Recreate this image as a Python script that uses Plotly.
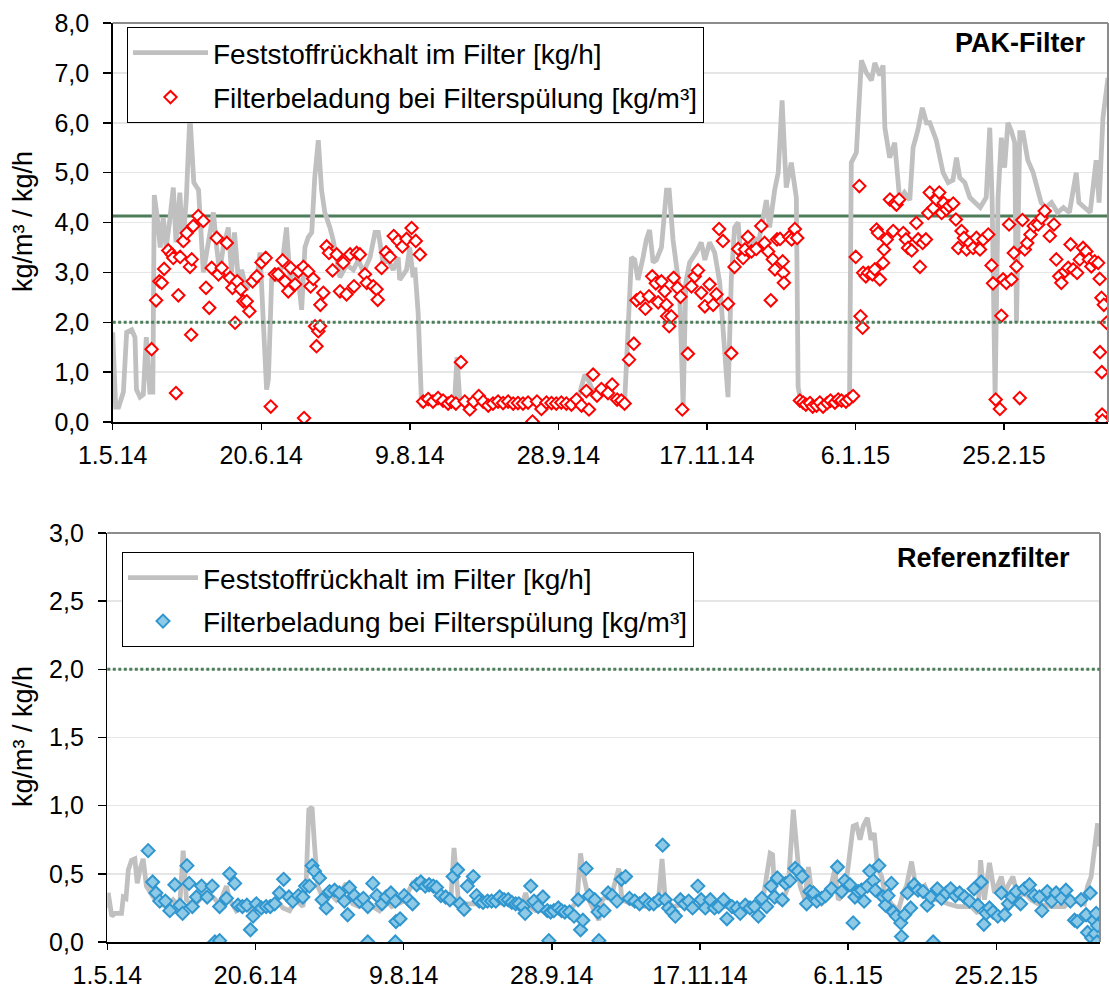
import pandas as pd
import plotly.graph_objects as go

START = pd.Timestamp("2014-05-01")
END = pd.Timestamp("2015-04-01")

tick_days = [0, 50, 100, 150, 200, 250, 300]
tick_labels = ["1.5.14", "20.6.14", "9.8.14", "28.9.14", "17.11.14", "6.1.15", "25.2.15"]

# ---------------- PAK-Filter (top) ----------------
pak_line_days = [0, 1, 2, 3.6, 4.7, 6.4, 7.5, 8, 9.2, 10.3, 11.3, 12.5, 13.5, 14, 15, 16, 17, 18, 19.1,
                 20.4, 21.3, 22.6, 23.6, 24.8, 25.5, 26, 27.3, 28.9, 30.5, 32.5, 33.9, 35, 36, 37.2, 38.9,
                 40, 41, 42.3, 43.4, 45, 46.8, 48.5, 49.6, 50.7, 51.8, 52.4, 53.5, 55.2, 56.9, 58.5, 59.7,
                 60.8, 62.5, 63.6, 64.7, 65.8, 67, 68, 69.2, 70.3, 71.4, 73.1, 74.2, 75.3, 76.5, 78.7, 81,
                 82.7, 84.4, 86.6, 88.3, 89.4, 91, 92.7, 94.4, 96.1, 96.6, 98.9, 100, 101.1, 101.7, 102.8,
                 103.4, 104, 105.6, 108, 110, 112, 114.6, 115.1, 115.9, 116.8, 119, 122, 125, 128, 131, 134,
                 137, 140, 143, 146, 149, 152, 155, 157.2, 158.9, 160, 161.1, 162.8, 164, 165.6, 167.3,
                 168.4, 169.5, 171.2, 172.3, 173.5, 174.6, 175.7, 176.8, 178.5, 179.6, 180.7, 181.9, 183,
                 184.7, 186.4, 187.3, 188.6, 189.7, 190.8, 192, 192.9, 194.2, 196.4, 198.1, 199.3, 200.9,
                 202.6, 204.3, 206, 207.1, 208.2, 209.3, 210.5, 211.6, 213.3, 215.5, 217.7, 220, 221.1,
                 222.8, 224, 225.3, 226.7, 228.4, 230.1, 230.7, 231.5, 234, 237, 240, 243, 246, 248, 248.6,
                 250.3, 252, 253.7, 255.4, 256.5, 258.2, 259.3, 259.9, 261.5, 263.2, 263.8, 264.9, 266.5,
                 268.3, 269.4, 271, 272.5, 273.9, 275, 277.2, 279.5, 281.2, 282.8, 284, 285.1, 286.8, 288.5,
                 290, 292, 294, 295.2, 296, 297, 298, 299.1, 300.2, 301.3, 302.4, 303.6, 304.2, 305.3,
                 306.4, 308, 309.8, 311.4, 312.5, 314, 316, 318, 320, 322, 324.3, 325.2, 327, 329, 331, 332,
                 333.3, 335]
pak_line_vals = [1.8, 0.3, 0.3, 0.6, 1.8, 1.85, 1.7, 0.65, 0.5, 0.55, 1.7, 0.6, 0.6, 4.55, 4.1, 3.5, 4.1, 3.5, 4.0,
                 4.7, 3.6, 4.6, 3.5, 4.5, 5.5, 6.15, 4.8, 4.65, 3.0, 3.8, 4.2, 3.5, 3.0, 3.5, 3.9,
                 3.0, 3.8, 2.85, 3.05, 2.65, 2.85, 2.85, 3.4, 2.0, 0.65, 0.85, 2.85, 2.85, 3.1, 3.9, 2.85,
                 3.05, 2.85, 2.25, 3.5, 3.7, 3.8, 4.9, 5.65, 4.65, 4.2, 3.9, 3.65, 3.3, 2.9, 3.15, 3.05,
                 3.25, 3.0, 3.3, 3.8, 3.8, 3.2, 3.25, 3.05, 3.3, 2.85, 3.05, 3.5, 2.9, 3.1, 2.2,
                 0.85, 0.3, 0.45, 0.45, 0.45, 0.42, 0.45, 0.45, 1.3, 0.45, 0.4, 0.38, 0.4, 0.35, 0.38, 0.36,
                 0.37, 0.35, 0.38, 0.36, 0.37, 0.35, 0.38, 0.58, 0.95, 0.85, 0.7, 0.45, 0.7, 0.58, 0.78,
                 0.45, 0.38, 0.45, 0.38, 2.05, 3.3, 3.25, 2.85, 3.3, 3.65, 3.85, 3.2, 3.25,
                 3.5, 4.65, 4.65, 3.65, 3.2, 2.65, 0.3, 2.8, 3.2, 3.4, 3.6, 3.25, 3.6,
                 3.4, 2.8, 1.5, 0.5, 2.85, 3.9, 4.0, 3.25, 3.5, 3.6, 3.7, 4.45, 3.9,
                 4.65, 5.0, 6.45, 4.7, 5.2, 4.5, 0.7, 0.45, 0.38, 0.35, 0.38, 0.4, 0.38, 0.42, 5.2,
                 5.4, 7.25, 7.0, 6.85, 7.2, 6.95, 7.15, 5.9, 5.3, 5.6, 5.1, 4.45, 4.6,
                 4.45, 5.5, 5.85, 6.3, 6.0, 6.0, 5.65, 5.0, 4.8, 4.85, 5.3, 4.9, 4.8, 4.5,
                 4.4, 4.3, 4.5, 5.9, 4.45, 0.5, 4.5, 5.7, 5.1, 6.0, 5.85, 5.6, 2.0, 5.8,
                 5.8, 5.25, 5.0, 4.65, 4.4, 4.3, 4.4, 4.2, 4.3, 4.2, 5.0, 4.4, 4.3, 4.2, 5.25, 4.4,
                 6.1, 6.9]

pak_mk_days = [13.1, 14.6, 15.7, 16.5, 17.3, 18.7, 19.9, 20.4, 21.3, 22.1, 22.7, 23.8, 24.9, 26.0, 26.6, 26.4,
               27.1, 28.8, 30.5, 31.4, 32.5, 33.3, 35.0, 35.6, 36.7, 38.4, 39.5, 40.3, 41.2, 41.9, 43.1, 44.0,
               45.1, 46.0, 47.1, 48.5, 50.1, 51.5, 53.2, 54.6, 55.7, 57.2, 58.0, 59.1, 59.9, 61.4, 62.5, 64.2,
               64.4, 65.8, 66.6, 67.5, 68.1, 68.6, 69.2, 69.8, 69.9, 70.9, 72.0, 72.8, 74.0, 75.4, 76.5, 77.6,
               78.7, 79.9, 81.2, 82.1, 83.2, 84.9, 85.5, 87.7, 88.8, 89.2, 90.5, 92.0, 93.3, 94.6, 96.1, 97.5,
               98.9, 100.6, 102.0, 103.4, 104.5, 106.2, 107.8, 109.5, 111.2, 112.9, 114.0, 115.5, 117.2,
               118.5, 120.2, 121.5, 123.2, 124.7, 126.4, 128.0, 129.7, 131.4, 133.1, 134.8, 136.4, 138.1,
               139.8, 141.3, 142.8, 144.3, 146.0, 147.7, 149.3, 151.0, 152.7, 154.4, 156.1, 157.8, 159.4,
               160.3, 161.7, 163.0, 164.5, 166.7, 168.1, 169.8, 171.2, 172.3, 173.8, 175.4, 176.3, 177.6,
               179.3, 180.5, 181.6, 182.8, 183.6, 184.7, 185.8, 186.4, 186.6, 187.3, 188.0, 188.8, 190.1,
               191.1, 191.7, 193.6, 194.8, 195.9, 197.0, 198.1, 199.3, 200.9, 202.1, 203.2, 204.1, 205.4,
               207.1, 208.2, 209.3, 210.5, 212.2, 212.8, 213.8, 215.0, 216.6, 218.3, 219.4, 220.6, 221.5,
               222.2, 222.9, 223.6, 224.6, 225.5, 225.7, 225.9, 227.7, 228.5, 229.6, 230.4, 231.3, 232.4,
               233.3, 234.7, 235.6, 236.9, 238.0, 239.1, 240.5, 241.6, 243.1, 244.2, 245.3, 246.8, 247.9,
               249.2, 250.1, 251.3, 251.7, 252.4, 252.6, 253.5, 254.3, 255.7, 256.5, 257.1, 257.6, 258.2,
               259.3, 259.6, 260.5, 261.6, 262.7, 263.3, 263.8, 264.7, 266.1, 267.0, 267.7, 268.9, 270.5,
               271.1, 271.7, 272.6, 273.7, 274.5, 275.0, 276.2, 277.3, 278.2, 279.0, 279.7, 280.6, 281.5,
               282.9, 283.8, 284.6, 285.7, 286.5, 287.4, 288.5, 289.6, 290.7, 291.9, 293.0, 294.7, 295.8,
               296.3, 297.2, 298.6, 299.1, 299.7, 300.8, 301.7, 302.5, 303.3, 304.2, 305.3, 306.2, 307.0,
               307.8, 308.9, 310.0, 311.5, 312.6, 313.7, 315.4, 316.8, 317.6, 318.6, 319.3, 320.5, 321.6,
               322.4, 323.3, 324.6, 325.5, 326.6, 327.7, 328.6, 329.4, 330.5, 331.7, 332.2, 332.8, 333.6,
               334.5, 332.3, 332.9, 333.0, 333.1]
pak_mk_vals = [1.46, 2.44, 2.82, 2.79, 3.07, 3.44, 3.36, 3.29, 0.58, 2.54, 3.31, 3.63, 3.79, 3.11, 3.26, 1.75,
               3.93, 4.13, 4.03, 2.69, 2.29, 3.09, 3.69, 2.96, 3.09, 3.59, 2.89, 2.69, 1.99, 2.82, 2.66, 2.42,
               2.42, 2.22, 2.82, 2.92, 3.2, 3.29, 0.31, 2.96, 2.96, 3.24, 2.82, 2.62, 3.09, 2.76, 3.02, 3.11,
               0.08, 3.02, 2.72, 2.87, 1.92, 1.52, 1.82, 1.92, 2.35, 2.59, 3.52, 3.39, 3.04, 3.36, 2.62, 3.19,
               2.56, 3.36, 2.72, 3.39, 3.36, 2.96, 2.79, 2.72, 2.66, 2.45, 3.09, 3.40, 3.31, 3.73, 3.63, 3.52,
               3.67, 3.89, 3.63, 3.36, 0.41, 0.46, 0.41, 0.48, 0.43, 0.37, 0.41, 0.37, 1.2,
               0.41, 0.25, 0.41, 0.52, 0.41, 0.33, 0.37, 0.41, 0.38, 0.41, 0.37, 0.38, 0.37,
               0.39, 0.01, 0.41, 0.26, 0.39, 0.38, 0.37, 0.39, 0.37, 0.35, 0.45, 0.33, 0.62,
               0.25, 0.95, 0.53, 0.66, 0.58, 0.75, 0.45, 0.43, 0.37, 1.25, 1.57, 2.44, 2.49,
               2.27, 2.52, 2.92, 2.78, 2.4, 2.82, 2.62, 2.35, 2.12, 1.92, 2.12, 2.89, 2.69,
               2.51, 0.25, 1.37, 2.72, 2.92, 3.04, 2.59, 2.32, 2.76, 2.35, 2.56, 3.87, 3.63,
               2.37, 1.38, 3.11, 3.47, 3.29, 3.46, 3.71, 3.42, 3.47, 3.93, 3.59, 3.42, 2.44,
               3.26, 3.06, 3.66, 3.67, 3.22, 2.99, 2.79, 3.71, 3.66, 3.87, 3.69, 0.43, 0.39,
               0.35, 0.38, 0.31, 0.33, 0.39, 0.31, 0.38, 0.43, 0.39, 0.45, 0.43, 0.41, 0.46,
               0.52, 3.31, 4.73, 2.12, 1.89, 2.99, 2.92, 2.99, 2.96, 3.06, 3.86, 3.79, 2.86,
               3.19, 3.46, 3.66, 4.46, 3.83, 4.39, 4.36, 4.46, 3.79, 3.66, 3.49, 3.44, 3.99,
               3.66, 3.11, 3.59, 3.66, 4.19, 4.6, 4.29, 4.46, 4.6, 4.19, 4.39, 4.26, 4.33,
               4.38, 4.06, 3.49, 3.83, 3.69, 3.46, 3.59, 3.49, 3.69, 3.46, 3.66, 3.76, 3.14,
               2.78, 0.45, 0.26, 2.13, 2.86, 2.79, 3.96, 2.86, 3.39, 3.12, 0.48, 4.05, 3.46,
               3.59, 3.76, 3.93, 3.96, 4.09, 4.23, 3.73, 3.96, 3.26, 2.92, 2.79, 3.02, 3.09,
               3.56, 3.06, 2.99, 3.26, 3.49, 3.42, 3.26, 3.12, 3.22, 3.19, 2.87, 2.49, 2.35,
               1.99, 1.4, 1.0, 0.15, 0.03]

# ---------------- Referenzfilter (bottom) ----------------
ref_line_days = [0, 0.3, 1.5, 2.6, 3.7, 4.8, 5.4, 6.3, 7.1, 8.2, 9.3, 10.1, 11, 12.1, 13.2, 15.5, 17.7, 20, 22.2,
                 24.4, 25.6, 26.7, 29, 31.2, 33.4, 35.6, 37.9, 40.2, 41.3, 43.5, 45.8, 48, 50.3, 52.5, 54.8,
                 57, 59.3, 61.5, 63.7, 66, 67, 68, 69.1, 69.9, 71, 72.7, 75, 77.2, 80.6, 82.8, 85, 87.3, 89.6,
                 91.8, 94, 96, 98, 100, 103, 106, 109, 111, 114, 116, 117, 118.5, 121, 125, 130, 135, 140,
                 141.2, 142.3, 144.5, 148, 152, 156, 158.5, 159.7, 160.8, 162.5, 165.9, 167, 170.4, 172.6,
                 173.7, 177, 181.6, 186, 187.2, 188.3, 191, 195, 200, 204, 208, 215, 221, 223.7, 224.5,
                 225.4, 227.6, 229.8, 231.5, 232.6, 233.8, 235.4, 236.6, 237.7, 241, 243.3, 245.5, 246.7,
                 248.9, 251.7, 252.8, 254, 255.1, 256.5, 257.7, 258.8, 259.9, 261.3, 262.4, 264.6, 266.9,
                 268.6, 269.7, 271.4, 272.5, 274.2, 275.9, 278, 280.3, 283.7, 287, 291.6, 293.8, 294.7, 296,
                 297.7, 299.4, 301.7, 302.8, 303.9, 305.6, 307.3, 309.5, 311.8, 314, 318.5, 323, 325.2,
                 329.7, 330.8, 332, 334.2, 335]
ref_line_vals = [0.25, 0.36, 0.19, 0.21, 0.21, 0.21, 0.33, 0.32, 0.53, 0.6, 0.61, 0.43, 0.53, 0.61, 0.41, 0.33,
                 0.28, 0.26, 0.31, 0.26, 0.67, 0.31, 0.26, 0.31, 0.36, 0.33, 0.28, 0.41, 0.31, 0.23, 0.28,
                 0.23, 0.28, 0.26, 0.28, 0.31, 0.25, 0.23, 0.31, 0.26, 0.38, 0.97, 0.99, 0.72, 0.41, 0.33,
                 0.36, 0.31, 0.43, 0.28, 0.26, 0.31, 0.26, 0.23, 0.31, 0.26, 0.28, 0.3, 0.43, 0.4, 0.43,
                 0.38, 0.3, 0.33, 0.69, 0.3, 0.28, 0.28, 0.29, 0.28, 0.28, 0.36, 0.26, 0.23, 0.23, 0.22,
                 0.23, 0.3, 0.65, 0.48, 0.31, 0.16, 0.31, 0.36, 0.54, 0.31, 0.28, 0.26, 0.31, 0.61, 0.31,
                 0.26, 0.28, 0.26, 0.28, 0.26, 0.26, 0.28, 0.65, 0.64, 0.31, 0.28, 0.41, 0.97, 0.7, 0.41,
                 0.31, 0.55, 0.36, 0.28, 0.33, 0.53, 0.31, 0.36, 0.85, 0.86, 0.75, 0.85, 0.91, 0.75, 0.8,
                 0.55, 0.48, 0.36, 0.28, 0.23, 0.36, 0.41, 0.59, 0.45, 0.36, 0.41, 0.31, 0.31, 0.28, 0.26,
                 0.26, 0.21, 0.6, 0.31, 0.58, 0.36, 0.48, 0.36, 0.41, 0.48, 0.33, 0.36, 0.31, 0.28, 0.26,
                 0.26, 0.31, 0.28, 0.41, 0.48, 0.87, 0.7]

ref_mk_days = [13.8, 15.3, 16.4, 17.7, 19.6, 21.1, 22.8, 24.5, 25.4, 26.9, 27.6, 28.7, 30.1, 31.8, 33.7, 35.4,
               36.3, 37.9, 37.9, 40.2, 41.3, 43.0, 44.1, 45.6, 47.1, 48.3, 49.2, 50.3, 52.0, 53.6, 55.0, 56.5,
               58.1, 59.5, 61.3, 62.6, 64.5, 66.0, 66.9, 68.2, 69.1, 69.9, 71.6, 72.5, 73.9, 75.0, 76.7, 78.3,
               80.0, 81.1, 81.7, 83.4, 85.1, 86.4, 87.9, 87.9, 89.6, 91.0, 92.7, 94.1, 95.7, 97.2, 97.4, 97.2,
               98.8, 100.2, 101.7, 103.0, 104.4, 105.8, 107.3, 108.6, 110.0, 111.1, 112.6, 114.2, 115.6,
               116.7, 118.2, 119.0, 120.4, 121.5, 123.5, 124.6, 125.5, 126.8, 128.3, 129.7, 131.1, 132.4,
               133.9, 135.3, 136.5, 137.8, 138.9, 140.3, 141.0, 142.9, 144.0, 145.4, 147.0, 148.5, 149.0,
               149.6, 150.7, 152.2, 153.3, 154.4, 156.0, 157.5, 158.9, 159.7, 160.5, 161.6, 162.7, 164.5,
               165.6, 165.9, 167.6, 169.0, 170.4, 172.0, 173.5, 174.9, 176.2, 178.0, 179.6, 181.4, 182.9,
               184.4, 186.1, 187.4, 188.3, 189.4, 190.6, 191.7, 193.4, 194.8, 196.2, 197.5, 199.3, 200.4,
               201.8, 203.5, 204.9, 206.3, 208.0, 209.1, 210.8, 212.5, 213.6, 215.3, 216.9, 218.4, 219.7,
               220.9, 222.5, 224.0, 225.2, 226.1, 227.8, 228.9, 230.4, 232.1, 233.2, 234.5, 236.0, 237.1,
               238.3, 239.4, 241.1, 242.4, 244.4, 246.4, 247.8, 248.9, 250.6, 251.7, 252.3, 253.4, 254.5,
               255.4, 256.5, 257.3, 258.5, 259.2, 260.4, 261.8, 262.6, 263.5, 264.6, 265.2, 266.3, 267.8,
               268.0, 269.1, 270.0, 271.1, 272.3, 273.6, 275.3, 276.7, 277.9, 278.7, 280.1, 281.5, 283.1,
               284.6, 286.2, 287.6, 289.3, 291.0, 292.5, 293.8, 294.9, 295.8, 296.6, 297.7, 298.9, 300.5,
               301.7, 302.8, 304.1, 305.3, 306.7, 308.2, 309.5, 311.2, 312.9, 314.6, 315.4, 317.2, 318.7,
               320.2, 321.9, 323.5, 325.0, 326.4, 327.3, 328.6, 330.3, 330.8, 331.7, 332.2, 332.9, 333.3,
               333.7, 334.0, 334.2]
ref_mk_vals = [0.67, 0.44, 0.36, 0.3, 0.3, 0.23, 0.42, 0.27, 0.21, 0.56, 0.43, 0.26, 0.33, 0.41, 0.33, 0.41,
               0.0, 0.01, 0.26, 0.32, 0.5, 0.43, 0.27, 0.26, 0.27, 0.09, 0.19, 0.28, 0.25, 0.26, 0.26, 0.28,
               0.36, 0.46, 0.33, 0.3, 0.34, 0.33, 0.41, 0.41, 0.56, 0.52, 0.47, 0.31, 0.25, 0.37, 0.38, 0.36,
               0.3, 0.2, 0.4, 0.34, 0.3, 0.32, 0.26, 0.0, 0.43, 0.34, 0.28, 0.33, 0.36, 0.3, 0.15, 0.0,
               0.17, 0.34, 0.31, 0.28, 0.42, 0.44, 0.41, 0.42, 0.41, 0.4, 0.34, 0.33, 0.31,
               0.48, 0.53, 0.28, 0.24, 0.41, 0.48, 0.34, 0.3, 0.29, 0.3, 0.3, 0.3, 0.33,
               0.31, 0.31, 0.29, 0.28, 0.28, 0.26, 0.21, 0.41, 0.3, 0.26, 0.33, 0.23, 0.01,
               0.22, 0.23, 0.25, 0.23, 0.22, 0.22, 0.19, 0.31, 0.09, 0.16, 0.54, 0.34, 0.31,
               0.22, 0.01, 0.23, 0.36, 0.34, 0.3, 0.46, 0.48, 0.32, 0.3, 0.28, 0.31, 0.28,
               0.28, 0.31, 0.71, 0.31, 0.25, 0.22, 0.19, 0.31, 0.28, 0.3, 0.25, 0.41, 0.31,
               0.25, 0.31, 0.25, 0.26, 0.31, 0.17, 0.26, 0.25, 0.21, 0.27, 0.25, 0.26, 0.19,
               0.32, 0.26, 0.41, 0.33, 0.47, 0.31, 0.43, 0.45, 0.54, 0.52, 0.48, 0.28, 0.37,
               0.36, 0.3, 0.32, 0.34, 0.39, 0.55, 0.37, 0.45, 0.42, 0.14, 0.33, 0.37, 0.38,
               0.3, 0.41, 0.52, 0.45, 0.38, 0.56, 0.33, 0.27, 0.34, 0.43, 0.22, 0.19, 0.14,
               0.04, 0.2, 0.36, 0.25, 0.42, 0.38, 0.37, 0.27, 0.33, 0.0, 0.39, 0.32, 0.36,
               0.39, 0.34, 0.36, 0.33, 0.3, 0.39, 0.27, 0.44, 0.13, 0.21, 0.25, 0.22, 0.19,
               0.36, 0.2, 0.28, 0.33, 0.37, 0.28, 0.39, 0.42, 0.34, 0.33, 0.23, 0.37, 0.3,
               0.36, 0.32, 0.38, 0.3, 0.16, 0.15, 0.31, 0.2, 0.07, 0.36, 0.03, 0.16, 0.06,
               0.21, 0.0, 0.12]

PAK_LIMIT = 4.13
DOTTED_LEVEL = 2.0

name_line = "Feststoffrückhalt im Filter [kg/h]"
name_mk = "Filterbeladung bei Filterspülung [kg/m³]"


def to_dates(days):
    return [(START + pd.Timedelta(days=d)).round("s") for d in days]


FONT = "Liberation Sans, Arial, sans-serif"
W, H = 1109, 994
GREEN = "#4e7d5b"

fig = go.Figure()

fig.add_trace(go.Scatter(x=to_dates(pak_line_days), y=pak_line_vals, mode="lines", name=name_line,
                         line=dict(color="#c0c0c0", width=4.8), xaxis="x", yaxis="y",
                         legend="legend", legendgroup="a"))
fig.add_trace(go.Scatter(x=to_dates(pak_mk_days), y=pak_mk_vals, mode="markers", name=name_mk,
                         marker=dict(symbol="diamond", size=9.5, color="white",
                                     line=dict(color="#ff0000", width=2)),
                         xaxis="x", yaxis="y", legend="legend", legendgroup="b"))

fig.add_trace(go.Scatter(x=to_dates(ref_line_days), y=ref_line_vals, mode="lines", name=name_line,
                         line=dict(color="#c0c0c0", width=4.8), xaxis="x2", yaxis="y2",
                         legend="legend2", legendgroup="c"))
fig.add_trace(go.Scatter(x=to_dates(ref_mk_days), y=ref_mk_vals, mode="markers", name=name_mk,
                         marker=dict(symbol="diamond", size=10, color="#8ecae6",
                                     line=dict(color="#2f96cf", width=2)),
                         xaxis="x2", yaxis="y2", legend="legend2", legendgroup="d"))

tickvals = to_dates(tick_days)

xcommon = dict(type="date", range=[START, END], tickvals=tickvals, ticktext=tick_labels,
               showline=True, linecolor="#000000", linewidth=1.5, ticks="outside", ticklen=6,
               tickcolor="#000000", tickwidth=1.5, showgrid=False, zeroline=False,
               tickfont=dict(family=FONT, size=25, color="#000000"), ticklabelstandoff=4,
               automargin=False, fixedrange=True)
ycommon = dict(showline=True, linecolor="#000000", linewidth=1.5, ticks="outside", ticklen=8,
               tickcolor="#000000", tickwidth=1.5, showgrid=True, gridcolor="#e6e6e6", gridwidth=1.5,
               zeroline=False, tickformat=".1f", tickfont=dict(family=FONT, size=25, color="#000000"),
               ticklabelstandoff=9, automargin=False, fixedrange=True)

top_x = [112.7 / W, 1108 / W]
top_y = [1 - 422 / H, 1 - 23 / H]
bot_x = [107.3 / W, 1100 / W]
bot_y = [1 - 942 / H, 1 - 533 / H]

fig.update_layout(
    width=W, height=H, margin=dict(l=0, r=0, t=0, b=0),
    paper_bgcolor="white", plot_bgcolor="white", separators=",.",
    font=dict(family=FONT, color="#000000"),
    xaxis=dict(domain=top_x, anchor="y", **xcommon),
    yaxis=dict(domain=top_y, anchor="x", range=[0, 8], dtick=1, tick0=0, **ycommon),
    xaxis2=dict(domain=bot_x, anchor="y2", **xcommon),
    yaxis2=dict(domain=bot_y, anchor="x2", range=[0, 3], dtick=0.5, tick0=0, **ycommon),
    legend=dict(x=127 / W, y=1 - 27 / H, xanchor="left", yanchor="top", bgcolor="white",
                bordercolor="#000000", borderwidth=1, font=dict(family=FONT, size=28),
                itemwidth=75, tracegroupgap=5),
    legend2=dict(x=122 / W, y=1 - 552 / H, xanchor="left", yanchor="top", bgcolor="white",
                 bordercolor="#000000", borderwidth=1, font=dict(family=FONT, size=28),
                 itemwidth=70, tracegroupgap=4),
    showlegend=True,
)

shapes = []
for xr, yr in (("x", "y"), ("x2", "y2")):
    # grey frame on top and right
    shapes.append(dict(type="line", xref=f"{xr} domain", yref=f"{yr} domain", x0=0, x1=1, y0=1, y1=1,
                       line=dict(color="#8c8c8c", width=2), layer="above"))
    shapes.append(dict(type="line", xref=f"{xr} domain", yref=f"{yr} domain", x0=1, x1=1, y0=0, y1=1,
                       line=dict(color="#8c8c8c", width=2), layer="above"))
    shapes.append(dict(type="line", xref=f"{xr} domain", yref=yr, x0=0, x1=1, y0=DOTTED_LEVEL,
                       y1=DOTTED_LEVEL, line=dict(color=GREEN, width=3, dash="3px,2.5px"),
                       layer="above"))
shapes.append(dict(type="line", xref="x domain", yref="y", x0=0, x1=1, y0=PAK_LIMIT, y1=PAK_LIMIT,
                   line=dict(color=GREEN, width=3), layer="below"))
fig.update_layout(shapes=shapes)

fig.add_annotation(text="<b>PAK-Filter</b>", xref="x domain", yref="y domain", x=0.979, y=0.95,
                   xanchor="right", yanchor="middle", showarrow=False,
                   font=dict(family=FONT, size=27, color="#000000"))
fig.add_annotation(text="<b>Referenzfilter</b>", xref="x2 domain", yref="y2 domain", x=0.972, y=0.939,
                   xanchor="right", yanchor="middle", showarrow=False,
                   font=dict(family=FONT, size=27, color="#000000"))
fig.add_annotation(text="kg/m³ / kg/h", xref="paper", yref="paper", x=23 / W, y=1 - 222 / H,
                   textangle=-90, showarrow=False, xanchor="center", yanchor="middle",
                   font=dict(family=FONT, size=27, color="#000000"))
fig.add_annotation(text="kg/m³ / kg/h", xref="paper", yref="paper", x=23 / W, y=1 - 737 / H,
                   textangle=-90, showarrow=False, xanchor="center", yanchor="middle",
                   font=dict(family=FONT, size=27, color="#000000"))

fig.write_html("out.html", config={"displayModeBar": False, "staticPlot": True},
               post_script="document.body.style.margin='0px';document.body.style.overflow='hidden';")
